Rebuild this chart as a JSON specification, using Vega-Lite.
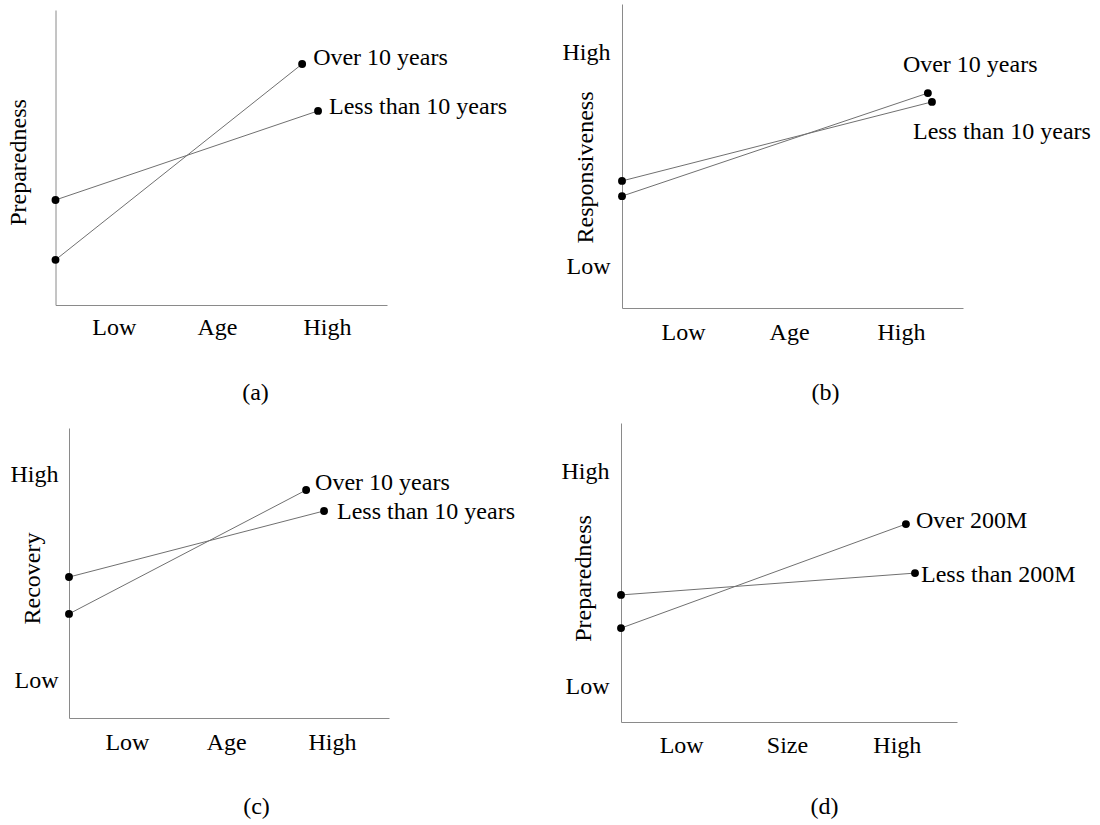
{
  "$schema": "https://vega.github.io/schema/vega-lite/v6.json",
  "padding": 0,
  "background": "white",
  "columns": 2,
  "spacing": 0,
  "bounds": "flush",
  "datasets": {
    "pts": [
      {"panel": "a", "series": "Over", "level": "Low", "x": 0, "y": 15.3, "label": "Over 10 years"},
      {"panel": "a", "series": "Over", "level": "High", "x": 74.4, "y": 81.7, "label": "Over 10 years"},
      {"panel": "a", "series": "Less", "level": "Low", "x": 0, "y": 35.6, "label": "Less than 10 years"},
      {"panel": "a", "series": "Less", "level": "High", "x": 79.2, "y": 65.8, "label": "Less than 10 years"},
      {"panel": "b", "series": "Over", "level": "Low", "x": 0, "y": 36.8, "label": "Over 10 years"},
      {"panel": "b", "series": "Over", "level": "High", "x": 89.7, "y": 70.7, "label": "Over 10 years"},
      {"panel": "b", "series": "Less", "level": "Low", "x": 0, "y": 41.8, "label": "Less than 10 years"},
      {"panel": "b", "series": "Less", "level": "High", "x": 90.9, "y": 67.8, "label": "Less than 10 years"},
      {"panel": "c", "series": "Over", "level": "Low", "x": 0, "y": 35.9, "label": "Over 10 years"},
      {"panel": "c", "series": "Over", "level": "High", "x": 74.1, "y": 78.6, "label": "Over 10 years"},
      {"panel": "c", "series": "Less", "level": "Low", "x": 0, "y": 48.6, "label": "Less than 10 years"},
      {"panel": "c", "series": "Less", "level": "High", "x": 79.7, "y": 71.4, "label": "Less than 10 years"},
      {"panel": "d", "series": "Over", "level": "Low", "x": 0, "y": 31.4, "label": "Over 200M"},
      {"panel": "d", "series": "Over", "level": "High", "x": 84.8, "y": 66.2, "label": "Over 200M"},
      {"panel": "d", "series": "Less", "level": "Low", "x": 0, "y": 42.5, "label": "Less than 200M"},
      {"panel": "d", "series": "Less", "level": "High", "x": 87.5, "y": 49.8, "label": "Less than 200M"}
    ]
  },
  "concat": [
    {
      "width": 550, "height": 412,
      "data": {"name": "pts"},
      "transform": [{"filter": "datum.panel == 'a'"}],
      "encoding": {
        "x": {"field": "x", "type": "quantitative", "scale": {"domain": [0, 100], "range": [55.5, 387]},
          "axis": {"offset": -107, "values": [17.6, 48.7, 81.9], "labelExpr": "datum.value < 30 ? 'Low' : (datum.value < 65 ? 'Age' : 'High')", "labelPadding": 22, "labelBaseline": "middle",
            "title": "(a)", "titleX": 255, "titleY": 87, "titleBaseline": "middle", "titleAlign": "center"}},
        "y": {"field": "y", "type": "quantitative", "scale": {"domain": [0, 100], "range": [305, 10]},
          "axis": {"offset": -55.5, "labels": false, "title": "Preparedness", "titleX": -37.5, "titleY": 162, "titleAngle": -90, "titleBaseline": "middle", "titleAlign": "center"}}
      },
      "layer": [
        {"mark": {"type": "line", "color": "#707070", "strokeWidth": 1}, "encoding": {"detail": {"field": "series"}}},
        {"mark": {"type": "point", "filled": true, "color": "#000", "opacity": 1, "size": 62}},
        {"transform": [{"filter": "datum.level == 'High' && datum.series == 'Over'"}], "mark": {"type": "text", "align": "left", "baseline": "middle", "dx": 11, "dy": -6}, "encoding": {"text": {"field": "label"}}},
        {"transform": [{"filter": "datum.level == 'High' && datum.series == 'Less'"}], "mark": {"type": "text", "align": "left", "baseline": "middle", "dx": 11, "dy": -4}, "encoding": {"text": {"field": "label"}}}
      ]
    },
    {
      "width": 550, "height": 412,
      "data": {"name": "pts"},
      "transform": [{"filter": "datum.panel == 'b'"}],
      "encoding": {
        "x": {"field": "x", "type": "quantitative", "scale": {"domain": [0, 100], "range": [72, 413]},
          "axis": {"offset": -104, "values": [17.9, 49.0, 81.8], "labelExpr": "datum.value < 30 ? 'Low' : (datum.value < 65 ? 'Age' : 'High')", "labelPadding": 24, "labelBaseline": "middle",
            "title": "(b)", "titleX": 275, "titleY": 84, "titleBaseline": "middle", "titleAlign": "center"}},
        "y": {"field": "y", "type": "quantitative", "scale": {"domain": [0, 100], "range": [308, 4]},
          "axis": {"offset": -72, "values": [13.5, 84.2], "labelExpr": "datum.value < 50 ? 'Low' : 'High'", "labelPadding": 12,
            "title": "Responsiveness", "titleX": -37, "titleY": 167, "titleAngle": -90, "titleBaseline": "middle", "titleAlign": "center"}}
      },
      "layer": [
        {"mark": {"type": "line", "color": "#707070", "strokeWidth": 1}, "encoding": {"detail": {"field": "series"}}},
        {"mark": {"type": "point", "filled": true, "color": "#000", "opacity": 1, "size": 62}},
        {"transform": [{"filter": "datum.level == 'High' && datum.series == 'Over'"}], "mark": {"type": "text", "align": "left", "baseline": "middle", "dx": -25, "dy": -28}, "encoding": {"text": {"field": "label"}}},
        {"transform": [{"filter": "datum.level == 'High' && datum.series == 'Less'"}], "mark": {"type": "text", "align": "left", "baseline": "middle", "dx": -19, "dy": 30}, "encoding": {"text": {"field": "label"}}}
      ]
    },
    {
      "width": 550, "height": 413,
      "data": {"name": "pts"},
      "transform": [{"filter": "datum.panel == 'c'"}],
      "encoding": {
        "x": {"field": "x", "type": "quantitative", "scale": {"domain": [0, 100], "range": [69, 389]},
          "axis": {"offset": -107, "values": [18.1, 49.1, 82.2], "labelExpr": "datum.value < 30 ? 'Low' : (datum.value < 65 ? 'Age' : 'High')", "labelPadding": 24, "labelBaseline": "middle",
            "title": "(c)", "titleX": 256, "titleY": 88, "titleBaseline": "middle", "titleAlign": "center"}},
        "y": {"field": "y", "type": "quantitative", "scale": {"domain": [0, 100], "range": [306, 16]},
          "axis": {"offset": -69, "values": [12.8, 83.8], "labelExpr": "datum.value < 50 ? 'Low' : 'High'", "labelPadding": 11,
            "title": "Recovery", "titleX": -37, "titleY": 166, "titleAngle": -90, "titleBaseline": "middle", "titleAlign": "center"}}
      },
      "layer": [
        {"mark": {"type": "line", "color": "#707070", "strokeWidth": 1}, "encoding": {"detail": {"field": "series"}}},
        {"mark": {"type": "point", "filled": true, "color": "#000", "opacity": 1, "size": 62}},
        {"transform": [{"filter": "datum.level == 'High' && datum.series == 'Over'"}], "mark": {"type": "text", "align": "left", "baseline": "middle", "dx": 9, "dy": -7}, "encoding": {"text": {"field": "label"}}},
        {"transform": [{"filter": "datum.level == 'High' && datum.series == 'Less'"}], "mark": {"type": "text", "align": "left", "baseline": "middle", "dx": 13, "dy": 1}, "encoding": {"text": {"field": "label"}}}
      ]
    },
    {
      "width": 550, "height": 413,
      "data": {"name": "pts"},
      "transform": [{"filter": "datum.panel == 'd'"}],
      "encoding": {
        "x": {"field": "x", "type": "quantitative", "scale": {"domain": [0, 100], "range": [71, 407]},
          "axis": {"offset": -103, "values": [17.9, 49.4, 82.1], "labelExpr": "datum.value < 30 ? 'Low' : (datum.value < 65 ? 'Size' : 'High')", "labelPadding": 23, "labelBaseline": "middle",
            "title": "(d)", "titleX": 274, "titleY": 84, "titleBaseline": "middle", "titleAlign": "center"}},
        "y": {"field": "y", "type": "quantitative", "scale": {"domain": [0, 100], "range": [310, 11]},
          "axis": {"offset": -71, "values": [12.0, 83.9], "labelExpr": "datum.value < 50 ? 'Low' : 'High'", "labelPadding": 12,
            "title": "Preparedness", "titleX": -38, "titleY": 166, "titleAngle": -90, "titleBaseline": "middle", "titleAlign": "center"}}
      },
      "layer": [
        {"mark": {"type": "line", "color": "#707070", "strokeWidth": 1}, "encoding": {"detail": {"field": "series"}}},
        {"mark": {"type": "point", "filled": true, "color": "#000", "opacity": 1, "size": 62}},
        {"transform": [{"filter": "datum.level == 'High' && datum.series == 'Over'"}], "mark": {"type": "text", "align": "left", "baseline": "middle", "dx": 10, "dy": -3}, "encoding": {"text": {"field": "label"}}},
        {"transform": [{"filter": "datum.level == 'High' && datum.series == 'Less'"}], "mark": {"type": "text", "align": "left", "baseline": "middle", "dx": 6, "dy": 2}, "encoding": {"text": {"field": "label"}}}
      ]
    }
  ],
  "config": {
    "view": {"stroke": null},
    "axis": {
      "grid": false, "ticks": false, "tickSize": 0,
      "domainColor": "#8a8a8a", "domainWidth": 1,
      "labelFont": "Liberation Serif", "labelFontSize": 24, "labelColor": "#000",
      "titleFont": "Liberation Serif", "titleFontSize": 24, "titleFontWeight": "normal", "titleColor": "#000",
      "labelFlush": false, "labelOverlap": false
    },
    "text": {"font": "Liberation Serif", "fontSize": 24, "color": "#000"}
  }
}
